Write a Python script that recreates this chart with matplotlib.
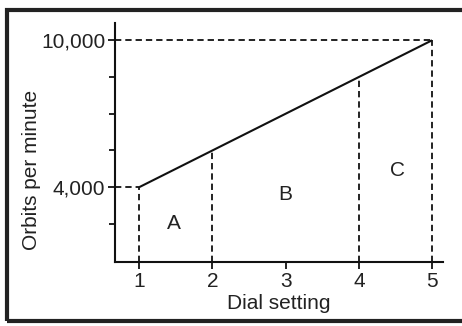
import matplotlib.pyplot as plt
from matplotlib.patches import Rectangle

plt.rcParams['font.family'] = ['Liberation Sans', 'DejaVu Sans']

dial = [1, 5]
orbits = [4000, 10000]
cut_x = [2, 4]
cut_y = [5500, 8500]
regions = ['A', 'B', 'C']
region_x = [1.48, 3.0, 4.53]
region_y = [2500, 3700, 4700]
xticks = [1, 2, 3, 4, 5]
yticks = [4000, 10000]
ytick_labels = ['4,000', '10,000']
yminor = [2500, 5500, 7000, 8500]

fs = 15
ink = '#111111'
txt = '#222222'

fig = plt.figure(figsize=(4.62, 3.26), dpi=100)
ax = fig.add_axes([0.249, 0.196, 0.710, 0.733])

ax.plot(dial, orbits, color=ink, lw=1.5, solid_capstyle='butt')

dash = dict(color=ink, lw=1.3, linestyle=(0, (3.5, 2.2)))
x0, y0 = 0.67, 940
# guide lines at the ends
ax.plot([x0, dial[0]], [orbits[0], orbits[0]], **dash)
ax.plot([x0, dial[1]], [orbits[1], orbits[1]], **dash)
ax.plot([dial[0], dial[0]], [y0, orbits[0]], **dash)
ax.plot([dial[1], dial[1]], [y0, orbits[1]], **dash)
for x, y in zip(cut_x, cut_y):
    ax.plot([x, x], [y0, y], **dash)

for lab, x, y in zip(regions, region_x, region_y):
    ax.text(x, y, lab, fontsize=fs, ha='center', va='center', color=txt)

ax.set_xlim(x0, 5.15)
ax.set_ylim(y0, 10700)
ax.set_xticks(xticks)
ax.set_yticks(yticks)
ax.set_yticklabels(ytick_labels)
ax.set_yticks(yminor, minor=True)
ax.tick_params(axis='both', which='both', direction='out', length=5, width=1.3,
               labelsize=fs, colors=ink, labelcolor=txt, pad=2)
ax.tick_params(axis='y', which='minor', length=4)

for s in ['top', 'right']:
    ax.spines[s].set_visible(False)
for s in ['left', 'bottom']:
    ax.spines[s].set_linewidth(1.5)
    ax.spines[s].set_color(ink)

ax.set_xlabel('Dial setting', fontsize=fs, color=txt, va='center')
ax.set_ylabel('Orbits per minute', fontsize=fs, color=txt, va='center')
ax.xaxis.set_label_coords(0.5, -0.175)
ax.yaxis.set_label_coords(-0.256, 0.385)

# frame round the whole figure
fig.patches.append(Rectangle((6.5 / 462, 5.5 / 326), 1.0, 1 - 15 / 326,
                             transform=fig.transFigure, fill=False,
                             lw=3, edgecolor=txt, clip_on=False))

fig.savefig('out.png', dpi=100)
